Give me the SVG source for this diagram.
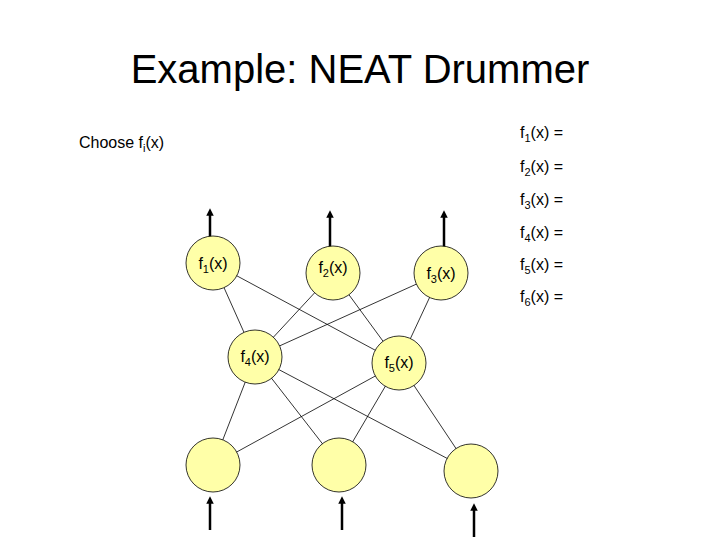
<svg xmlns="http://www.w3.org/2000/svg" width="720" height="540" viewBox="0 0 720 540">
<style>
text{font-family:"Liberation Sans",Arial,sans-serif;fill:#000}
.n{fill:#ffffa8;stroke:#000;stroke-width:0.8}
.e{stroke:#000;stroke-width:0.8}
.a{stroke:#000;stroke-width:2.5;marker-end:url(#ar)}
.l{font-size:16px}
.s{font-size:11px}
</style>
<defs><marker id="ar" viewBox="0 0 10 10" refX="5" refY="5" markerWidth="3" markerHeight="3" orient="auto"><path d="M0,0L10,5L0,10z"/></marker></defs>
<rect width="720" height="540" fill="#fff"/>
<text x="360" y="83" font-size="40" text-anchor="middle">Example: NEAT Drummer</text>
<text x="79" y="148" class="l">Choose f<tspan class="s" dy="4">i</tspan><tspan dy="-4">(x)</tspan></text>
<g class="l">
<text x="520" y="138">f<tspan class="s" dy="4">1</tspan><tspan dy="-4">(x) =</tspan></text>
<text x="520" y="172">f<tspan class="s" dy="4">2</tspan><tspan dy="-4">(x) =</tspan></text>
<text x="520" y="205">f<tspan class="s" dy="4">3</tspan><tspan dy="-4">(x) =</tspan></text>
<text x="520" y="238">f<tspan class="s" dy="4">4</tspan><tspan dy="-4">(x) =</tspan></text>
<text x="520" y="270">f<tspan class="s" dy="4">5</tspan><tspan dy="-4">(x) =</tspan></text>
<text x="520" y="302">f<tspan class="s" dy="4">6</tspan><tspan dy="-4">(x) =</tspan></text>
</g>
<g id="connectors">
<line class="e" x1="213" y1="263" x2="255" y2="357"/>
<line class="e" x1="213" y1="263" x2="399" y2="363"/>
<line class="e" x1="333" y1="273" x2="255" y2="357"/>
<line class="e" x1="333" y1="273" x2="399" y2="363"/>
<line class="e" x1="441" y1="273" x2="255" y2="357"/>
<line class="e" x1="441" y1="273" x2="399" y2="363"/>
<line class="e" x1="213" y1="465" x2="255" y2="357"/>
<line class="e" x1="213" y1="465" x2="399" y2="363"/>
<line class="e" x1="339" y1="465" x2="255" y2="357"/>
<line class="e" x1="339" y1="465" x2="399" y2="363"/>
<line class="e" x1="471" y1="471" x2="255" y2="357"/>
<line class="e" x1="471" y1="471" x2="399" y2="363"/>
<line class="a" x1="210" y1="247" x2="210" y2="212"/>
<line class="a" x1="330" y1="247" x2="330" y2="214"/>
<line class="a" x1="444" y1="247" x2="444" y2="214"/>
<line class="a" x1="210" y1="530" x2="210" y2="500"/>
<line class="a" x1="342" y1="530" x2="342" y2="500"/>
<line class="a" x1="474" y1="537" x2="474" y2="507"/>
</g>
<g id="f1"><circle class="n" cx="213" cy="263" r="27"/><text class="l" x="213" y="269" text-anchor="middle">f<tspan class="s" dy="4">1</tspan><tspan dy="-4">(x)</tspan></text></g>
<g id="f2"><circle class="n" cx="333" cy="273" r="27"/><text class="l" x="333" y="273" text-anchor="middle">f<tspan class="s" dy="4">2</tspan><tspan dy="-4">(x)</tspan></text></g>
<g id="f3"><circle class="n" cx="441" cy="273" r="27"/><text class="l" x="441" y="279" text-anchor="middle">f<tspan class="s" dy="4">3</tspan><tspan dy="-4">(x)</tspan></text></g>
<g id="f4"><circle class="n" cx="255" cy="357" r="27"/><text class="l" x="255" y="362" text-anchor="middle">f<tspan class="s" dy="4">4</tspan><tspan dy="-4">(x)</tspan></text></g>
<g id="f5"><circle class="n" cx="399" cy="363" r="27"/><text class="l" x="399" y="368" text-anchor="middle">f<tspan class="s" dy="4">5</tspan><tspan dy="-4">(x)</tspan></text></g>
<g id="in1"><circle class="n" cx="213" cy="465" r="27"/></g>
<g id="in2"><circle class="n" cx="339" cy="465" r="27"/></g>
<g id="in3"><circle class="n" cx="471" cy="471" r="27"/></g>
</svg>
